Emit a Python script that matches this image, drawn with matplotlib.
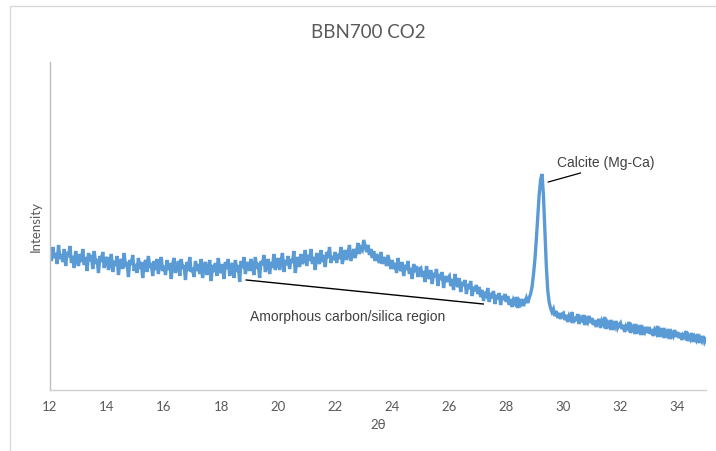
import numpy as np
import matplotlib
matplotlib.use("Agg")
import matplotlib.pyplot as plt
from matplotlib.patches import Rectangle

# ---- data (2theta grid: start 12.00, step 0.05) ----
two_theta_start = 12.0
two_theta_step = 0.05
intensity = [
    140,129,143,132,137,126,145,131,136,128,141,124,138,133,144,127,134,122,139,130,  # 12
    124,136,128,141,125,133,119,137,129,135,121,139,126,131,117,134,128,138,122,130,  # 13
    133,120,127,136,118,129,124,134,115,127,131,121,137,123,128,113,130,125,135,119,  # 14
    126,117,132,121,128,112,125,130,118,134,122,127,114,129,120,131,116,126,133,119,  # 15
    124,115,130,120,127,111,126,132,117,123,129,114,131,121,125,110,128,119,133,118,  # 16
    122,113,129,119,126,116,131,112,124,128,115,121,130,109,125,118,127,114,132,120,  # 17
    117,126,111,128,121,131,114,123,127,112,130,118,125,108,129,122,133,116,124,128,  # 18
    119,131,124,115,133,121,127,112,129,125,135,118,126,131,116,128,122,136,120,127,  # 19
    132,120,129,137,118,130,125,134,121,131,127,139,117,128,133,123,136,126,130,140,  # 20
    124,135,129,141,126,133,120,137,131,126,140,128,135,123,138,132,143,127,134,130,  # 21
    138,127,136,131,143,126,134,140,130,137,145,129,135,141,132,139,147,136,142,140,  # 22
    150,144,138,145,135,141,132,139,129,136,131,127,138,126,133,129,124,135,128,121,  # 23
    130,121,127,117,132,123,119,128,114,125,120,129,116,122,111,126,118,124,113,121,  # 24
    122,113,119,108,124,115,111,120,106,117,113,121,104,116,110,118,102,114,108,112,  # 25
    114,104,111,100,116,107,103,112,98,108,104,110,96,106,101,109,94,103,99,105,      # 26
    96,103,93,100,89,98,95,102,88,97,92,99,86,95,91,97,85,94,90,96,                   # 27
    88,94,85,91,83,90,87,93,82,89,86,91,84,88,92,87,92,96,103,115,                    # 28
    130,150,172,195,210,216,195,160,125,100,88,82,78,81,74,79,72,77,71,76,            # 29
    77,70,75,68,74,71,78,67,73,69,76,66,72,70,75,65,71,68,74,67,                      # 30
    72,65,70,63,68,71,62,69,66,73,61,67,64,70,60,66,63,69,62,65,                      # 31
    67,61,65,58,64,62,68,57,63,60,66,56,62,59,65,55,61,58,63,57,                      # 32
    63,56,61,54,60,57,64,53,59,56,62,52,58,55,61,51,57,54,60,53,                      # 33
    58,52,57,50,55,53,59,49,54,51,57,48,53,50,56,47,52,49,54,48,                      # 34
    51,                                                                               # 35
]
x_ticks = [12, 14, 16, 18, 20, 22, 24, 26, 28, 30, 32, 34]
title = "BBN700 CO2"
x_label = "2θ"
y_label = "Intensity"
calcite_label = "Calcite (Mg-Ca)"
amorph_label = "Amorphous carbon/silica region"

two_theta = two_theta_start + two_theta_step * np.arange(len(intensity))

W, H = 716, 451
fig = plt.figure(figsize=(W / 100, H / 100), dpi=100)
ax = fig.add_axes([50 / W, 1 - 390 / H, 656 / W, 328 / H])

ax.plot(two_theta, intensity, color="#5b9bd5", lw=2.4, solid_joinstyle="miter")

ax.set_xlim(12, 35)
ax.set_ylim(0, 328)
ax.set_xticks(x_ticks)
ax.set_yticks([])
ax.tick_params(axis="x", length=0, pad=8, labelsize=9.5, labelcolor="#595959")
for lab in ax.get_xticklabels():
    lab.set_fontfamily("Lato")
for s in ["top", "right"]:
    ax.spines[s].set_visible(False)
ax.spines["left"].set_color("#bfbfbf")
ax.spines["bottom"].set_color("#d0d0d0")
ax.spines["left"].set_linewidth(1.0)
ax.spines["bottom"].set_linewidth(1.0)

ax.set_xlabel(x_label, fontsize=9.5, color="#595959", family="Lato", labelpad=4)
ax.set_ylabel(y_label, fontsize=9.5, color="#595959", family="Lato", labelpad=6)

fig.text(368 / W, 1 - 32 / H, title, ha="center", va="center", fontsize=13.5,
         color="#595959", family="Lato")

# annotations
ax.plot([29.47, 30.6], [208, 217], color="black", lw=0.9)
ax.text(29.79, 227, calcite_label, fontsize=10, color="#404040",
        family="Liberation Sans", va="center", ha="left")
ax.plot([18.88, 27.19], [110, 86], color="black", lw=1.0)
ax.text(19.02, 73, amorph_label, fontsize=10, color="#404040",
        family="Liberation Sans", va="center", ha="left")

# outer chart border
fig.patches.append(Rectangle((10 / W, -0.1), 1.2, 1 - 6 / H + 0.1, transform=fig.transFigure,
                             fill=False, edgecolor="#d9d9d9", lw=1.0))

fig.savefig("out.png", dpi=100)
